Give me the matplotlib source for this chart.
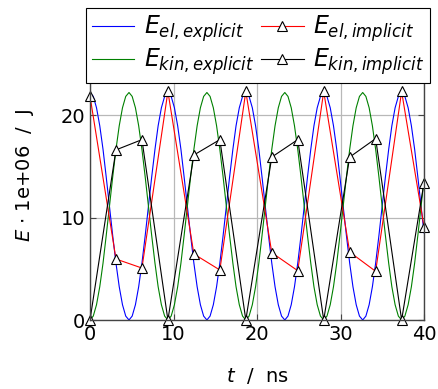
import matplotlib
matplotlib.use("Agg")
import matplotlib.pyplot as plt

plt.rcParams['font.family'] = ['DejaVu Sans']
plt.rcParams['mathtext.fontset'] = 'dejavusans'

# explicit scheme, sampled along the curves (t in ns, E in 1e+06 J)
t_explicit = [0, 0.39, 0.78, 1.17, 1.56, 1.94, 2.33, 2.72, 3.11, 3.50, 3.89, 4.28,
              4.67, 5.05, 5.44, 5.83, 6.22, 6.61, 7.00, 7.39, 7.78, 8.16, 8.55, 8.94,
              9.33, 9.72, 10.11, 10.50, 10.89, 11.27, 11.66, 12.05, 12.44, 12.83, 13.22, 13.61,
              14.00, 14.38, 14.77, 15.16, 15.55, 15.94, 16.33, 16.72, 17.11, 17.49, 17.88, 18.27,
              18.66, 19.05, 19.44, 19.83, 20.22, 20.60, 20.99, 21.38, 21.77, 22.16, 22.55, 22.94,
              23.33, 23.71, 24.10, 24.49, 24.88, 25.27, 25.66, 26.05, 26.44, 26.82, 27.21, 27.60,
              27.99, 28.38, 28.77, 29.16, 29.55, 29.93, 30.32, 30.71, 31.10, 31.49, 31.88, 32.27,
              32.66, 33.04, 33.43, 33.82, 34.21, 34.60, 34.99, 35.38, 35.77, 36.15, 36.54, 36.93,
              37.32, 37.71, 38.10, 38.49, 38.88, 39.26, 39.65, 40.00]
e_el_explicit = [22.2, 21.82, 20.71, 18.95, 16.65, 13.97, 11.1, 8.23, 5.55, 3.25, 1.49, 0.38,
                 0, 0.38, 1.49, 3.25, 5.55, 8.23, 11.1, 13.97, 16.65, 18.95, 20.71, 21.82,
                 22.2, 21.82, 20.71, 18.95, 16.65, 13.97, 11.1, 8.23, 5.55, 3.25, 1.49, 0.38,
                 0, 0.38, 1.49, 3.25, 5.55, 8.23, 11.1, 13.97, 16.65, 18.95, 20.71, 21.82,
                 22.2, 21.82, 20.71, 18.95, 16.65, 13.97, 11.1, 8.23, 5.55, 3.25, 1.49, 0.38,
                 0, 0.38, 1.49, 3.25, 5.55, 8.23, 11.1, 13.97, 16.65, 18.95, 20.71, 21.82,
                 22.2, 21.82, 20.71, 18.95, 16.65, 13.97, 11.1, 8.23, 5.55, 3.25, 1.49, 0.38,
                 0, 0.38, 1.49, 3.25, 5.55, 8.23, 11.1, 13.97, 16.65, 18.95, 20.71, 21.82,
                 22.2, 21.82, 20.71, 18.95, 16.65, 13.97, 11.1, 8.5]
e_kin_explicit = [0, 0.38, 1.49, 3.25, 5.55, 8.23, 11.1, 13.97, 16.65, 18.95, 20.71, 21.82,
                  22.2, 21.82, 20.71, 18.95, 16.65, 13.97, 11.1, 8.23, 5.55, 3.25, 1.49, 0.38,
                  0, 0.38, 1.49, 3.25, 5.55, 8.23, 11.1, 13.97, 16.65, 18.95, 20.71, 21.82,
                  22.2, 21.82, 20.71, 18.95, 16.65, 13.97, 11.1, 8.23, 5.55, 3.25, 1.49, 0.38,
                  0, 0.38, 1.49, 3.25, 5.55, 8.23, 11.1, 13.97, 16.65, 18.95, 20.71, 21.82,
                  22.2, 21.82, 20.71, 18.95, 16.65, 13.97, 11.1, 8.23, 5.55, 3.25, 1.49, 0.38,
                  0, 0.38, 1.49, 3.25, 5.55, 8.23, 11.1, 13.97, 16.65, 18.95, 20.71, 21.82,
                  22.2, 21.82, 20.71, 18.95, 16.65, 13.97, 11.1, 8.23, 5.55, 3.25, 1.49, 0.38,
                  0, 0.38, 1.49, 3.25, 5.55, 8.23, 11.1, 13.7]

# implicit scheme, one point per time step
t_implicit = [0, 3.11, 6.22, 9.33, 12.44, 15.55, 18.66, 21.77, 24.88, 27.99, 31.10, 34.21, 37.32, 40.0]
e_el_implicit = [21.85, 5.95, 5.07, 22.3, 6.44, 4.88, 22.3, 6.57, 4.81, 22.3, 6.63, 4.75, 22.3, 9.1]
e_kin_implicit = [0, 16.6, 17.6, 0, 16.1, 17.6, 0, 15.9, 17.6, 0, 15.9, 17.7, 0, 13.4]

x_ticks = [0, 10, 20, 30, 40]
y_ticks = [0, 10, 20]

fig = plt.figure(figsize=(4.38, 3.89), dpi=100)
# top edge of the axes sits behind the legend box
ax = fig.add_axes([90 / 438, 69 / 389, 334 / 438, 290 / 389])

# plotting order chosen so the 2-column legend reads row by row like the original
ax.plot(t_explicit, e_el_explicit, color='#0000ff', lw=0.8, label=r'$E_{el,explicit}$')
ax.plot(t_explicit, e_kin_explicit, color='#008000', lw=0.8, label=r'$E_{kin,explicit}$')
ax.plot(t_implicit, e_el_implicit, color='#ff0000', lw=0.8, marker='^', ms=7,
        mfc='white', mec='black', mew=0.8, clip_on=False, label=r'$E_{el,implicit}$')
ax.plot(t_implicit, e_kin_implicit, color='black', lw=0.8, marker='^', ms=7,
        mfc='white', mec='black', mew=0.8, clip_on=False, label=r'$E_{kin,implicit}$')

ax.set_xlim(0, 40)
ax.set_ylim(0, 28.3)
ax.set_xticks(x_ticks)
ax.set_yticks(y_ticks)
ax.grid(True, color='#b8b8b8', lw=0.9)
ax.set_axisbelow(True)
ax.tick_params(direction='in', top=True, right=True, length=4, labelsize=14, color='#444444')
for s in ax.spines.values():
    s.set_color('#444444')
    s.set_linewidth(1.0)

ax.set_xlabel(r'$t$  /  ns', fontsize=14, labelpad=16)
ax.set_ylabel(r'$E$ $\cdot$ 1e+06  /  J', fontsize=14, labelpad=18)

leg = fig.legend(loc='center', bbox_to_anchor=(258 / 438, 343.5 / 389), bbox_transform=fig.transFigure,
                 ncol=2, fontsize=17, frameon=True, fancybox=False, framealpha=1,
                 edgecolor='black', handlelength=1.8, columnspacing=0.3, handletextpad=0.4,
                 borderpad=0.25, labelspacing=0.1)
leg.get_frame().set_linewidth(0.8)

fig.savefig('out.png', dpi=100)
